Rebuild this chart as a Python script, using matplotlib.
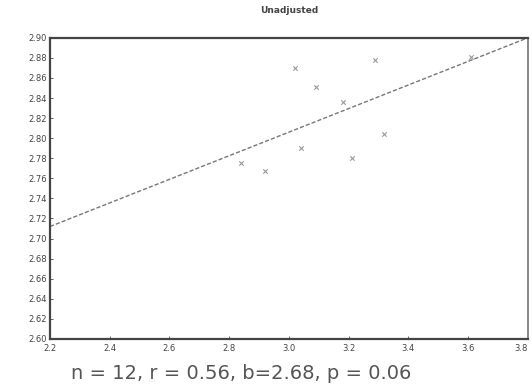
import numpy as np
import matplotlib
matplotlib.use('Agg')
import matplotlib.pyplot as plt

# values
x_vals = [2.84, 2.92, 3.02, 3.04, 3.09, 3.18, 3.21, 3.29, 3.32, 3.61]
y_vals = [2.775, 2.767, 2.870, 2.790, 2.851, 2.836, 2.780, 2.878, 2.804, 2.881]
fit_slope = 0.1175
fit_intercept = 2.4535
x_ticks = [2.2, 2.4, 2.6, 2.8, 3.0, 3.2, 3.4, 3.6, 3.8]
y_ticks = [2.60, 2.62, 2.64, 2.66, 2.68, 2.70, 2.72, 2.74, 2.76, 2.78, 2.80, 2.82, 2.84, 2.86, 2.88, 2.90]
title = 'Unadjusted'
stats_text = 'n = 12, r = 0.56, b=2.68, p = 0.06'

fig = plt.figure(figsize=(5.32, 3.90), dpi=100)
ax = fig.add_axes([0.094, 0.131, 0.898, 0.772])

ax.scatter(x_vals, y_vals, marker='x', s=10, color='#999999', linewidths=0.8, zorder=3)

xl = np.array([2.2, 3.8])
ax.plot(xl, fit_intercept + fit_slope * xl, color='#777777', linestyle=(0, (3, 1.5)), linewidth=1.0)

ax.set_xlim(2.2, 3.8)
ax.set_ylim(2.60, 2.90)
ax.set_xticks(x_ticks)
ax.set_yticks(y_ticks)
ax.set_xticklabels(['%.1f' % t for t in x_ticks])
ax.set_yticklabels(['%.2f' % t for t in y_ticks])
ax.tick_params(direction='in', length=2, width=0.6, labelsize=6, colors='#444444')
ax.tick_params(axis='x', pad=4)
ax.tick_params(axis='y', pad=2)
# keep the last x label inside the figure
ax.get_xticklabels()[-1].set_horizontalalignment('right')

for side in ['left', 'bottom', 'top']:
    ax.spines[side].set_color('#444444')
    ax.spines[side].set_linewidth(1.6)
ax.spines['right'].set_color('#888888')
ax.spines['right'].set_linewidth(1.4)

ax.set_title(title, fontsize=6.5, color='#444444', fontweight='bold', pad=18)
fig.text(0.453, 0.043, stats_text, ha='center', va='center', fontsize=14, color='#555555')

fig.savefig('out.png', dpi=100)
